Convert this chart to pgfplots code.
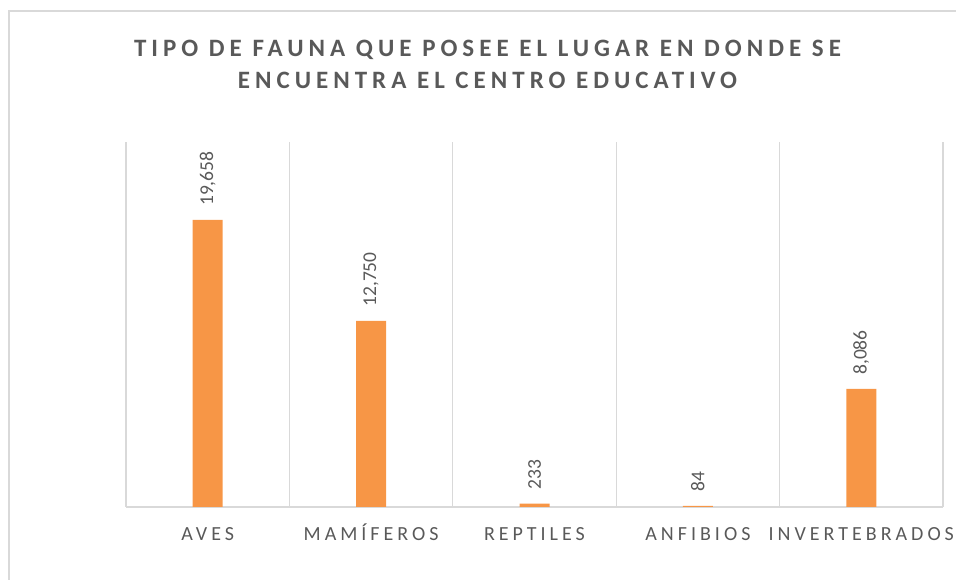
\documentclass[border=0pt]{standalone}
\usepackage{fontspec}
\setmainfont{Carlito}
\newfontfamily\spaced[LetterSpace=20]{Carlito}
\usepackage{pgfplots}
\pgfplotsset{compat=1.18}
\definecolor{barc}{HTML}{F79646}
\definecolor{txt}{HTML}{595959}
\definecolor{gridc}{HTML}{D9D9D9}
\begin{document}
\begin{tikzpicture}[x=1pt,y=1pt]
\useasboundingbox (0,0) rectangle (956,580);
\draw[gridc, line width=1.2pt] (9,-5) -- (9,569) -- (961,569);
\node[anchor=base, text=txt, inner sep=0pt, font=\spaced\bfseries\fontsize{25}{30}\selectfont] at (487.5,523) {TIPO DE FAUNA QUE POSEE EL LUGAR EN DONDE SE};
\node[anchor=base, text=txt, inner sep=0pt, font=\spaced\bfseries\fontsize{25}{30}\selectfont] at (487.5,491) {ENCUENTRA EL CENTRO EDUCATIVO};
\begin{axis}[
  at={(126pt,73pt)}, anchor=south west,
  scale only axis, width=817pt, height=365pt,
  ybar, bar width=30pt,
  xmin=-0.5, xmax=4.5, ymin=0, ymax=25000,
  xtick={0,1,2,3,4},
  xticklabels={AVES, MAMÍFEROS, REPTILES, ANFIBIOS, INVERTEBRADOS},
  minor xtick={-0.5,0.5,1.5,2.5,3.5,4.5},
  xminorgrids, minor grid style={gridc, line width=1.2pt},
  ytick=\empty,
  axis x line=bottom, axis y line=none,
  x axis line style={gridc, line width=1.5pt, -},
  major tick length=0pt, minor tick length=0pt,
  xticklabel style={font=\spaced\fontsize{20}{24}\selectfont, text=txt, anchor=base, yshift=-34pt},
  clip=false,
  nodes near coords, point meta=y,
  every node near coord/.append style={rotate=90, anchor=west, font=\fontsize{19.5}{23}\selectfont, text=txt, inner xsep=14pt},
  /pgf/number format/fixed, /pgf/number format/precision=0,
  /pgf/number format/1000 sep={,}, /pgf/number format/assume math mode=true,
]
\addplot[fill=barc, draw=none] coordinates {(0,19658) (1,12750) (2,233) (3,84) (4,8086)};
\end{axis}
\end{tikzpicture}
\end{document}
